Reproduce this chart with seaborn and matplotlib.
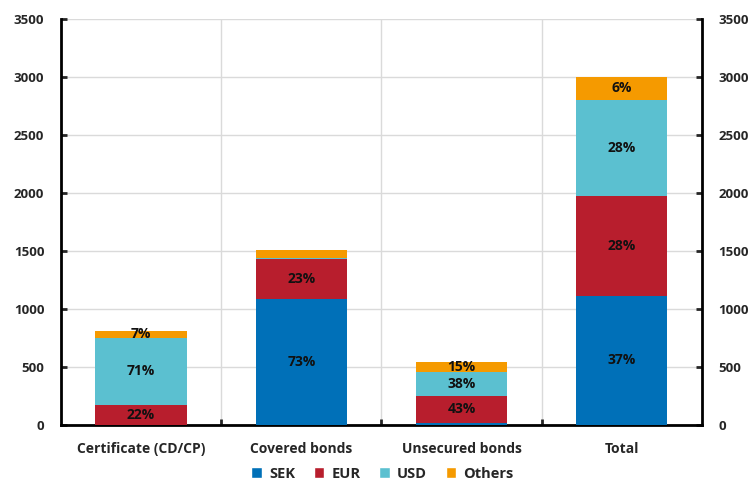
import matplotlib
matplotlib.use("Agg")
import matplotlib.pyplot as plt
from matplotlib.patches import Patch
from matplotlib.ticker import MultipleLocator
import seaborn as sns

# values
categories = ["Certificate (CD/CP)", "Covered bonds", "Unsecured bonds", "Total"]
sek = [0, 1088, 20, 1113]
eur = [170, 346, 233, 861]
usd = [584, 10, 207, 831]
others = [58, 66, 87, 195]

# percent labels as printed on the bars ("" = no label)
sek_lbl = ["", "73%", "", "37%"]
eur_lbl = ["22%", "23%", "43%", "28%"]
usd_lbl = ["71%", "", "38%", "28%"]
oth_lbl = ["7%", "", "15%", "6%"]

series = [("SEK", sek, sek_lbl, "#0070B8"),
          ("EUR", eur, eur_lbl, "#B81E2D"),
          ("USD", usd, usd_lbl, "#5BC0D0"),
          ("Others", others, oth_lbl, "#F59A00")]

sns.set_style("white")
plt.rcParams["font.family"] = ["Open Sans", "DejaVu Sans"]
plt.rcParams["font.weight"] = "bold"

fig = plt.figure(figsize=(7.53, 4.83), dpi=100)
ax = fig.add_axes([0.081, 0.12, 0.851, 0.8407])

bottom = [0] * len(categories)
for name, vals, lbls, col in series:
    sns.barplot(x=categories, y=vals, bottom=bottom, color=col, width=0.57,
                saturation=1, ax=ax, zorder=3, linewidth=0)
    for i, (v, t) in enumerate(zip(vals, lbls)):
        if t:
            ax.text(i, bottom[i] + v / 2, t, ha="center", va="center",
                    fontsize=10, fontweight="bold", color="#111111", zorder=4)
    bottom = [b + v for b, v in zip(bottom, vals)]

ax.set_xlim(-0.5, 3.5)
ax.set_ylim(0, 3500)
ax.yaxis.set_major_locator(MultipleLocator(500))
ax.set_xticks([0.5, 1.5, 2.5], minor=True)

ax.grid(axis="y", which="major", color="#DADADA", lw=1, zorder=0)
ax.grid(axis="x", which="minor", color="#DADADA", lw=1, zorder=0)
ax.grid(axis="x", which="major", visible=False)

for s in ["left", "right", "bottom"]:
    ax.spines[s].set_visible(True)
    ax.spines[s].set_color("black")
    ax.spines[s].set_linewidth(2)
ax.spines["top"].set_visible(False)

ax.tick_params(axis="y", which="major", left=True, right=True, labelleft=True,
               labelright=True, direction="in", length=4, width=2,
               labelsize=9.5, pad=12)
ax.tick_params(axis="x", which="major", bottom=False, labelsize=10, pad=9)
ax.tick_params(axis="x", which="minor", bottom=True, direction="in",
               length=4, width=2)
for lab in ax.get_xticklabels() + ax.get_yticklabels():
    lab.set_fontweight("bold")
for lab in ax.yaxis.get_ticklabels(which="major"):
    lab.set_fontweight("bold")
ax.set_xlabel("")
ax.set_ylabel("")

handles = [Patch(facecolor=c, label=n) for n, _, _, c in series]
fig.legend(handles=handles, loc="lower center", bbox_to_anchor=(0.508, -0.022),
           ncol=4, frameon=False, handlelength=0.7,
           handleheight=0.7, handletextpad=0.5, columnspacing=1.3,
           prop={"weight": "bold", "size": 10.5})

fig.savefig("out.png", dpi=100)
